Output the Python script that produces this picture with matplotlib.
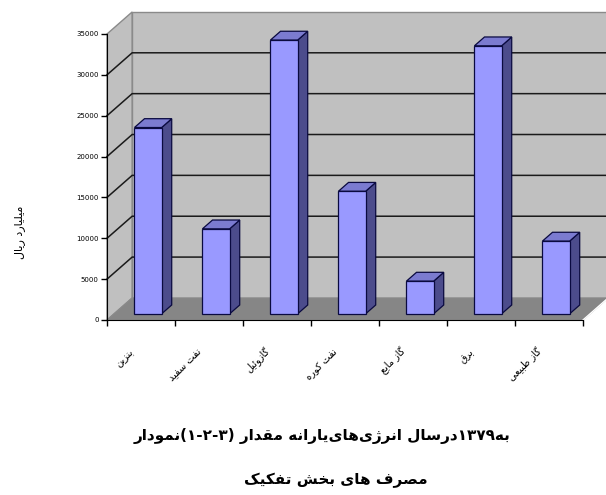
import numpy as np
import matplotlib.pyplot as plt
from matplotlib.patches import Polygon

# energy subsidies by consuming sector (billion rials)
sectors = ["بنزین", "نفت سفید", "گازوئیل", "نفت کوره", "گاز مایع", "برق", "گاز طبیعی"]
subsidy = [22800, 10400, 33500, 15000, 4000, 32800, 8900]
yticks = [0, 5000, 10000, 15000, 20000, 25000, 30000, 35000]
ylabel = "میلیارد ریال"
caption1 = ["نمودار", "(۱-۲-۳)", " ", "مقدار", " ", "یارانه", "های", "انرژی", " ", "درسال", "۱۳۷۹", "به"]
caption2 = ["تفکیک", " ", "بخش", " ", "های", " ", "مصرف"]

# presentation forms: isolated, final, initial, medial
FORMS = {
    'ا': ('\uFE8D', '\uFE8E'),
    'د': ('\uFEA9', '\uFEAA'),
    'ر': ('\uFEAD', '\uFEAE'),
    'ز': ('\uFEAF', '\uFEB0'),
    'ژ': ('\uFB8A', '\uFB8B'),
    'و': ('\uFEED', '\uFEEE'),
    'ب': ('\uFE8F', '\uFE90', '\uFE91', '\uFE92'),
    'ت': ('\uFE95', '\uFE96', '\uFE97', '\uFE98'),
    'خ': ('\uFEA5', '\uFEA6', '\uFEA7', '\uFEA8'),
    'س': ('\uFEB1', '\uFEB2', '\uFEB3', '\uFEB4'),
    'ش': ('\uFEB5', '\uFEB6', '\uFEB7', '\uFEB8'),
    'ص': ('\uFEB9', '\uFEBA', '\uFEBB', '\uFEBC'),
    'ط': ('\uFEC1', '\uFEC2', '\uFEC3', '\uFEC4'),
    'ع': ('\uFEC9', '\uFECA', '\uFECB', '\uFECC'),
    'ف': ('\uFED1', '\uFED2', '\uFED3', '\uFED4'),
    'ق': ('\uFED5', '\uFED6', '\uFED7', '\uFED8'),
    'ل': ('\uFEDD', '\uFEDE', '\uFEDF', '\uFEE0'),
    'م': ('\uFEE1', '\uFEE2', '\uFEE3', '\uFEE4'),
    'ن': ('\uFEE5', '\uFEE6', '\uFEE7', '\uFEE8'),
    'ه': ('\uFEE9', '\uFEEA', '\uFEEB', '\uFEEC'),
    'ئ': ('\uFE89', '\uFE8A', '\uFE8B', '\uFE8C'),
    'ی': ('\uFBFC', '\uFBFD', '\uFBFE', '\uFBFF'),
    'ک': ('\uFB8E', '\uFB8F', '\uFB90', '\uFB91'),
    'گ': ('\uFB92', '\uFB93', '\uFB94', '\uFB95'),
}


def rtl(s):
    # join letters and flip to visual order
    out = []
    for i, ch in enumerate(s):
        f = FORMS.get(ch)
        if f is None:
            out.append(ch)
            continue
        prev = s[i - 1] if i > 0 else ''
        nxt = s[i + 1] if i < len(s) - 1 else ''
        jp = prev in FORMS and len(FORMS[prev]) == 4
        jn = len(f) == 4 and nxt in FORMS
        if jp and jn:
            out.append(f[3])
        elif jp:
            out.append(f[1])
        elif jn:
            out.append(f[2])
        else:
            out.append(f[0])
    if any(c in FORMS for c in s):
        out = out[::-1]
    return ''.join(out)


plt.rcParams['font.family'] = ['DejaVu Sans']

W, H = 606, 495
fig = plt.figure(figsize=(W / 100, H / 100), dpi=100)
ax = fig.add_axes([107 / W, 175 / H, 476 / W, 286 / H])
ax.set_xlim(0, len(sectors))
ax.set_ylim(0, 35000)
ax.patch.set_visible(False)

n = len(sectors)
dx, dy = 0.37, 2700     # oblique depth of the walls
top = yticks[-1]

wall = '#c0c0c0'
floor = '#868686'
# left wall, back wall, floor
ax.add_patch(Polygon([(0, 0), (dx, dy), (dx, top + dy), (0, top)], closed=True,
                     fc=wall, ec='#8a8a8a', lw=1, clip_on=False, zorder=0))
ax.add_patch(Polygon([(dx, dy), (n + dx, dy), (n + dx, top + dy), (dx, top + dy)], closed=True,
                     fc=wall, ec='#8a8a8a', lw=1, clip_on=False, zorder=0))
ax.add_patch(Polygon([(0, 0), (n, 0), (n + dx, dy), (dx, dy)], closed=True,
                     fc=floor, ec='#8a8a8a', lw=0.8, clip_on=False, zorder=0.5))
ax.plot([n, n + dx], [0, dy], color='white', lw=1, clip_on=False, zorder=0.6)

# gridlines across left and back walls
for v in yticks[1:-1]:
    ax.plot([0, dx, n + dx], [v, v + dy, v + dy], color='#1a1a1a', lw=1.1,
            clip_on=False, zorder=0.4)

# 3d bars
w = 0.4
t0, t1 = 0.28, 0.68
ddx, ddy = (t1 - t0) * dx, (t1 - t0) * dy
edge = '#0a0a40'
for i, v in enumerate(subsidy):
    x0 = i + 0.5 - w / 2 + t0 * dx
    b = t0 * dy
    front = [(x0, b), (x0 + w, b), (x0 + w, b + v), (x0, b + v)]
    side = [(x0 + w, b), (x0 + w + ddx, b + ddy), (x0 + w + ddx, b + v + ddy), (x0 + w, b + v)]
    lid = [(x0, b + v), (x0 + w, b + v), (x0 + w + ddx, b + v + ddy), (x0 + ddx, b + v + ddy)]
    ax.add_patch(Polygon(side, closed=True, fc='#4c4c8c', ec=edge, lw=0.9, clip_on=False, zorder=2))
    ax.add_patch(Polygon(lid, closed=True, fc='#7b7bd0', ec=edge, lw=0.9, clip_on=False, zorder=2))
    ax.add_patch(Polygon(front, closed=True, fc='#9999ff', ec=edge, lw=0.9, clip_on=False, zorder=2))

# axes lines and ticks
for s in ['top', 'right']:
    ax.spines[s].set_visible(False)
ax.spines['left'].set_color('black')
ax.spines['bottom'].set_color('black')
ax.spines['left'].set_zorder(3)
ax.spines['bottom'].set_zorder(3)
ax.set_yticks(yticks)
ax.set_yticklabels([str(t) for t in yticks])
ax.set_xticks(np.arange(n + 1))
ax.set_xticklabels([])
ax.tick_params(axis='y', length=4, width=1, pad=2, labelsize=5)
ax.tick_params(axis='x', length=4, width=1)

for i, name in enumerate(sectors):
    ax.annotate(rtl(name), xy=(i + 0.5, 0), xytext=(-9, -30), textcoords='offset pixels',
                rotation=45, rotation_mode='anchor', ha='right', va='center', fontsize=7)

fig.text(20 / W, 1 - 232 / H, rtl(ylabel), rotation=90, ha='center', va='center', fontsize=8)

line1 = ''.join(rtl(t) for t in caption1)
line2 = ''.join(rtl(t) for t in caption2)
fig.text(322 / W, 1 - 436 / H, line1, ha='center', va='center', fontsize=11, fontweight='bold')
fig.text(336 / W, 1 - 480 / H, line2, ha='center', va='center', fontsize=11, fontweight='bold')

fig.savefig('out.png', dpi=100, facecolor='white')
